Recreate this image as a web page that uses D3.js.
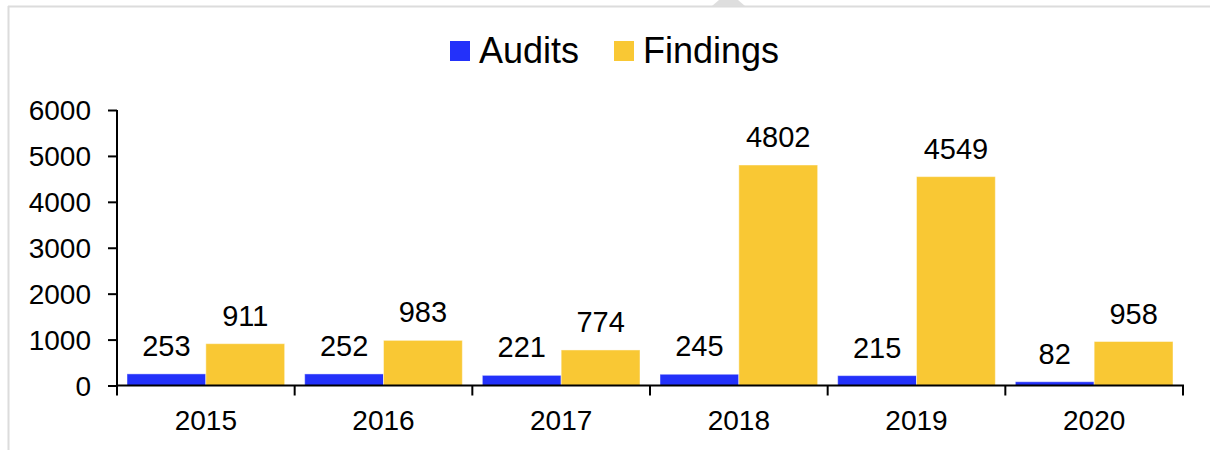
<!DOCTYPE html>
<html>
<head>
<meta charset="utf-8">
<script src="https://cdn.jsdelivr.net/npm/d3@7"></script>
<style>
  html, body { margin: 0; padding: 0; background: #fff; }
  svg { display: block; font-family: "Liberation Sans", Arial, sans-serif; }
</style>
</head>
<body>
<svg id="chart" width="1210" height="450"></svg>
<script>
// Yearly audits and findings
const years = ["2015", "2016", "2017", "2018", "2019", "2020"];
const audits = [253, 252, 221, 245, 215, 82];
const findings = [911, 983, 774, 4802, 4549, 958];
const seriesNames = ["Audits", "Findings"];
const seriesColors = ["#2331FA", "#F9C834"];
const yTicks = [0, 1000, 2000, 3000, 4000, 5000, 6000];

const svg = d3.select("#chart");

// panel frame
svg.append("line").attr("x1", 8.5).attr("x2", 8.5).attr("y1", 6).attr("y2", 450)
  .attr("stroke", "#dcdcdc").attr("stroke-width", 2);
svg.append("line").attr("x1", 8).attr("x2", 1210).attr("y1", 6.5).attr("y2", 6.5)
  .attr("stroke", "#dcdcdc").attr("stroke-width", 2);
svg.append("path").attr("d", "M712,6 L719,0 L738,0 L745,6 Z").attr("fill", "#dedede");

const x = d3.scaleBand().domain(years).range([117, 1183]).paddingInner(0).paddingOuter(0);
const sub = d3.scaleBand().domain(seriesNames).range([0, x.bandwidth()])
  .paddingInner(0).paddingOuter(0.127);
const y = d3.scaleLinear().domain([0, 6000]).range([385.5, 110]);

const rows = years.map((yr, i) => ({ year: yr, values: [audits[i], findings[i]] }));

// bars
const groups = svg.append("g").selectAll("g").data(rows).join("g")
  .attr("transform", d => `translate(${x(d.year)},0)`);
groups.selectAll("rect")
  .data(d => d.values.map((v, k) => ({ name: seriesNames[k], value: v, k })))
  .join("rect")
  .attr("x", d => sub(d.name))
  .attr("width", sub.bandwidth())
  .attr("y", d => y(d.value))
  .attr("height", d => y(0) - y(d.value))
  .attr("fill", d => seriesColors[d.k])
  .attr("stroke", "rgba(255,255,255,0.45)")
  .attr("stroke-width", 1);

// value labels
groups.selectAll("text")
  .data(d => d.values.map((v, k) => ({ name: seriesNames[k], value: v, k })))
  .join("text")
  .attr("x", d => sub(d.name) + sub.bandwidth() / 2)
  .attr("y", d => y(d.value) - 18)
  .attr("text-anchor", "middle")
  .attr("font-size", 29)
  .attr("fill", "#000")
  .text(d => d.value);

// y axis
const yAxis = svg.append("g").attr("transform", "translate(117,0)")
  .call(d3.axisLeft(y).tickValues(yTicks).tickSize(9).tickPadding(17).tickFormat(d3.format("d")));
yAxis.select(".domain").attr("stroke", "#000").attr("stroke-width", 2)
  .attr("d", "M0,110V385.5");
yAxis.selectAll(".tick line").attr("stroke", "#000").attr("stroke-width", 2);
yAxis.selectAll(".tick text").attr("font-size", 28).attr("fill", "#000")
  .attr("font-family", "Liberation Sans, Arial, sans-serif").attr("dy", "0.35em");

// x axis with ticks at category boundaries
const xAxisG = svg.append("g").attr("transform", "translate(0,385.5)");
xAxisG.append("line").attr("x1", 116).attr("x2", 1184).attr("y1", 0).attr("y2", 0)
  .attr("stroke", "#000").attr("stroke-width", 2);
const bounds = years.map(d => x(d)).concat([x(years[years.length - 1]) + x.bandwidth()]);
xAxisG.selectAll("line.tk").data(bounds).join("line").attr("class", "tk")
  .attr("x1", d => d).attr("x2", d => d).attr("y1", 0).attr("y2", 10)
  .attr("stroke", "#000").attr("stroke-width", 2);
xAxisG.selectAll("text").data(years).join("text")
  .attr("x", d => x(d) + x.bandwidth() / 2)
  .attr("y", 44)
  .attr("text-anchor", "middle")
  .attr("font-size", 28)
  .attr("fill", "#000")
  .text(d => d);

// legend
const legend = svg.append("g");
const legendPos = [{ sx: 450, tx: 479 }, { sx: 614, tx: 643 }];
seriesNames.forEach((name, i) => {
  legend.append("rect").attr("x", legendPos[i].sx).attr("y", 41).attr("width", 20).attr("height", 20)
    .attr("fill", seriesColors[i]);
  legend.append("text").attr("x", legendPos[i].tx).attr("y", 63)
    .attr("font-size", 36).attr("fill", "#000").text(name);
});
</script>
</body>
</html>
